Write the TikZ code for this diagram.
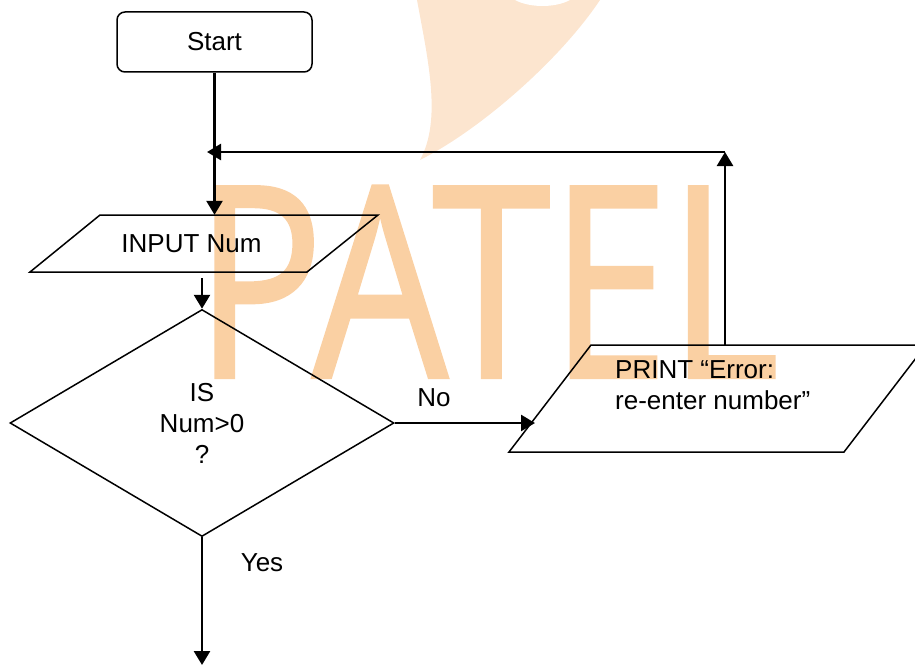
\documentclass[tikz,border=0pt]{standalone}
\usepackage{fontspec}
\setmainfont{Liberation Sans}
\newfontfamily\wmfont{Open Sans}[FakeBold=1.5]
\usetikzlibrary{arrows.meta,shapes.geometric,calc}
\definecolor{wm}{RGB}{250,208,163}
\definecolor{wmlight}{RGB}{252,229,207}
\begin{document}
\begin{tikzpicture}[x=1pt,y=-1pt,
  shapeline/.style={draw=black,line width=1.5pt},
  conn/.style={draw=black,line width=2.6pt,-{Triangle[length=14pt,width=16pt]}},
  lbl/.style={font=\fontsize{26}{31}\selectfont,inner sep=0pt},
  startbox/.style={lbl,draw=black,line width=1.5pt,rounded corners=8pt,minimum width=195pt,minimum height=60pt},
  decbox/.style={lbl,draw=black,line width=1.5pt,diamond,minimum width=384pt,minimum height=227pt,align=center},
  wmtext/.style={font=\wmfont\fontsize{266}{266}\selectfont,text=wm,inner sep=0pt,anchor=base,xscale=0.8}
]
\useasboundingbox (0,0) rectangle (915,666);
\clip (0,0) rectangle (915,666);
% watermark
\fill[wmlight] (417,0) .. controls (428,60) and (442,120) .. (420,160) .. controls (480,130) and (560,60) .. (600,0) -- cycle;
\fill[white] (515,0) .. controls (530,8) and (555,8) .. (570,0) -- cycle;
\node[wmtext] (wm) at (487,377) {PATEL};
% shapes
\node[startbox] (start) at (214.5,42) {Start};
\draw[shapeline] (100,215) -- (378,215) -- (307,272) -- (30,272) -- cycle;
\node[lbl,minimum height=57pt] (input) at (191.5,243.5) {INPUT Num};
\node[decbox] (dec) at (202,423) {IS\\Num>0\\?};
\draw[shapeline] (591,345) -- (926,345) -- (844,452) -- (509,452) -- cycle;
\node[lbl,anchor=west,align=left] (print) at (615,385) {PRINT “Error:\\re-enter number”};
% labels
\node[lbl,anchor=base] (no) at (434,406) {No};
\node[lbl,anchor=base] (yes) at (262,571) {Yes};
% coordinates
\coordinate (inbot) at ($(dec.north |- input.south)+(0,6)$);
\coordinate (pin) at (535,423);
\coordinate (ptop) at (725,345);
\coordinate (corner) at (725,152);
\coordinate (join) at (207,152);
\coordinate (yesend) at (202,665);
% connectors
\draw[conn] (start.south) -- (start.south |- input.north);
\draw[conn] (inbot) -- (dec.north);
\draw[conn] (dec.east) -- (pin);
\draw[conn] (ptop) -- (corner);
\draw[conn] (corner) -- (join);
\draw[conn] (dec.south) -- (yesend);
\end{tikzpicture}
\end{document}
